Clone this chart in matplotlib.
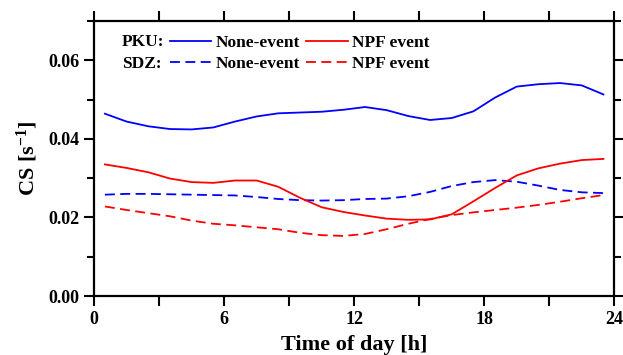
import numpy as np
import matplotlib
matplotlib.use('Agg')
from matplotlib import pyplot as plt
from matplotlib.ticker import MultipleLocator, FormatStrFormatter

plt.rcParams['font.family'] = 'Liberation Serif'
plt.rcParams['font.weight'] = 'bold'
plt.rcParams['mathtext.fontset'] = 'custom'
plt.rcParams['mathtext.rm'] = 'Liberation Serif:bold'
plt.rcParams['mathtext.it'] = 'Liberation Serif:bold'
plt.rcParams['mathtext.bf'] = 'Liberation Serif:bold'

# hours of day (mid-hour)
hours = np.arange(0.5, 24, 1.0)

pku_none = [0.0464, 0.0444, 0.0432, 0.0425, 0.0424, 0.0429, 0.0444, 0.0457,
            0.0465, 0.0467, 0.0469, 0.0474, 0.0481, 0.0473, 0.0458, 0.0448,
            0.0453, 0.0470, 0.0505, 0.0533, 0.0539, 0.0542, 0.0536, 0.0513]
pku_npf = [0.0335, 0.0326, 0.0315, 0.0299, 0.0290, 0.0288, 0.0294, 0.0294,
           0.0278, 0.0250, 0.0226, 0.0214, 0.0205, 0.0197, 0.0194, 0.0195,
           0.0208, 0.0241, 0.0275, 0.0307, 0.0325, 0.0337, 0.0346, 0.0349]
sdz_none = [0.0258, 0.0260, 0.0260, 0.0259, 0.0258, 0.0257, 0.0256, 0.0252,
            0.0247, 0.0244, 0.0243, 0.0244, 0.0247, 0.0248, 0.0254, 0.0265,
            0.0280, 0.0290, 0.0295, 0.0291, 0.0281, 0.0270, 0.0264, 0.0262]
sdz_npf = [0.0228, 0.0219, 0.0211, 0.0203, 0.0192, 0.0184, 0.0180, 0.0175,
           0.0170, 0.0161, 0.0155, 0.0153, 0.0158, 0.0170, 0.0184, 0.0196,
           0.0206, 0.0213, 0.0219, 0.0225, 0.0232, 0.0240, 0.0249, 0.0257]

fig = plt.figure(figsize=(6.23, 3.55), dpi=100)
ax = fig.add_axes([0.151, 0.166, 0.835, 0.775])

lw = 1.3
dash = (5.5, 3)
l1, = ax.plot(hours, pku_none, color='#0000ff', lw=lw, solid_joinstyle='round')
l2, = ax.plot(hours, sdz_none, color='#0000ff', lw=lw, dashes=dash)
l3, = ax.plot(hours, pku_npf, color='#ff0000', lw=lw, solid_joinstyle='round')
l4, = ax.plot(hours, sdz_npf, color='#ff0000', lw=lw, dashes=dash)

ax.set_xlim(0, 24)
ax.set_ylim(0, 0.07)
ax.xaxis.set_major_locator(MultipleLocator(6))
ax.xaxis.set_minor_locator(MultipleLocator(3))
ax.yaxis.set_major_locator(MultipleLocator(0.02))
ax.yaxis.set_minor_locator(MultipleLocator(0.01))
ax.yaxis.set_major_formatter(FormatStrFormatter('%.2f'))

ax.tick_params(which='both', direction='out', top=True, right=True,
               width=1.5, labelsize=13)
ax.tick_params(which='major', length=7)
ax.tick_params(which='minor', length=5)
ax.tick_params(axis='x', which='minor', length=7)
for s in ax.spines.values():
    s.set_linewidth(1.6)

ax.set_xlabel('Time of day [h]', fontsize=16, fontweight='bold', labelpad=5)
ax.set_ylabel('CS [s$^{-1}$]', fontsize=16, fontweight='bold', labelpad=6)

leg = ax.legend([l1, l2, l3, l4], ['None-event', 'None-event', 'NPF event', 'NPF event'],
                ncol=2, frameon=False, loc='upper left', bbox_to_anchor=(0.125, 0.987),
                fontsize=12.5, handlelength=2.4, handletextpad=0.25, columnspacing=0.35,
                labelspacing=0.25, borderaxespad=0.2)
ax.text(0.054, 0.925, 'PKU:', transform=ax.transAxes, fontsize=12.5,
        fontweight='bold', va='center', ha='left')
ax.text(0.054, 0.845, 'SDZ:', transform=ax.transAxes, fontsize=12.5,
        fontweight='bold', va='center', ha='left')

fig.savefig('out.png', dpi=100)
